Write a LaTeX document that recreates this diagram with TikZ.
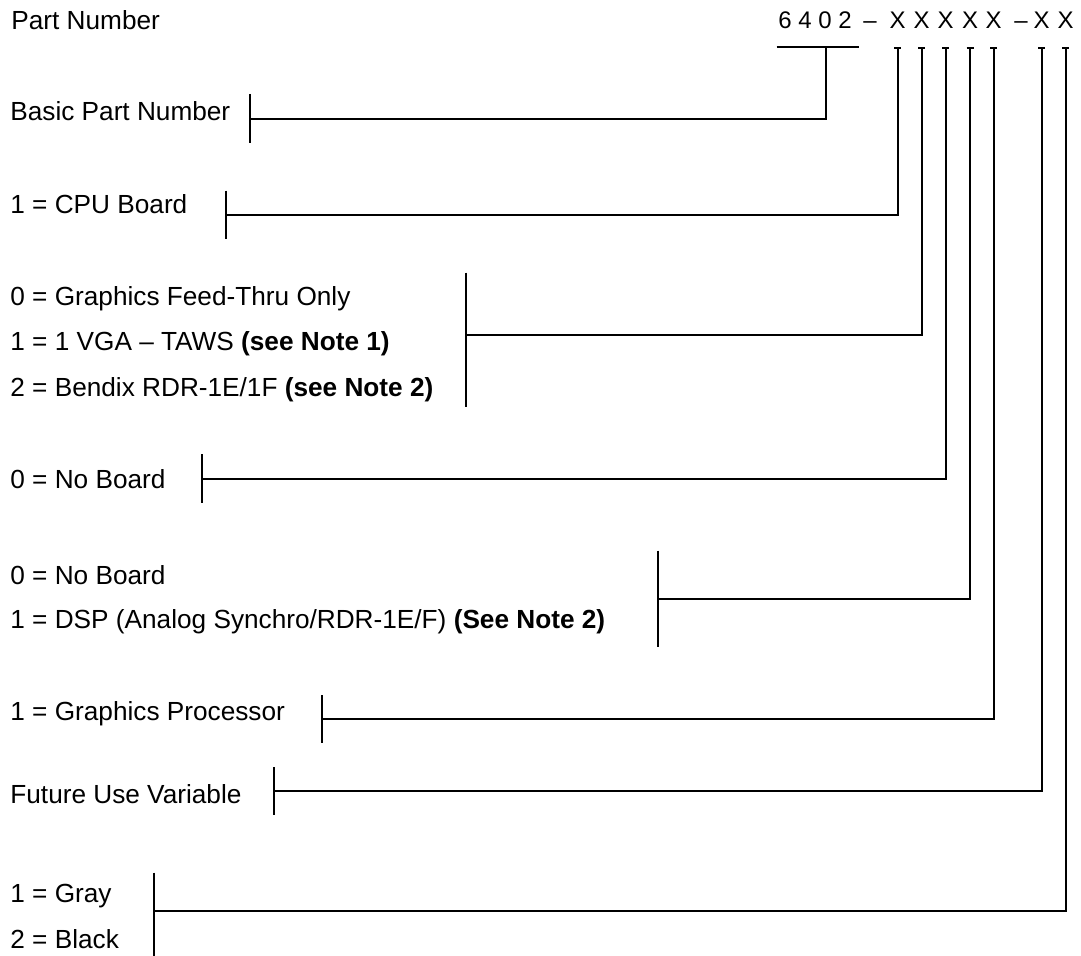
\documentclass[tikz,border=0pt]{standalone}
\usepackage{fontspec}
\setmainfont{Liberation Sans}
\usetikzlibrary{arrows.meta,calc}

\begin{document}
\begin{tikzpicture}[
  x=0.5pt, y=-0.5pt,
  entry/.style={anchor=base west, inner sep=0pt, font=\fontsize{13.1}{15}\selectfont},
  digit/.style={anchor=base, inner sep=0pt, font=\fontsize{12}{14}\selectfont},
  brk/.style={line width=1pt},
  lead/.style={line width=1pt, {Bar[width=3.5pt]}-}
]
  \useasboundingbox (0,0) rectangle (1081,956);
  % labels on the left
  \node[entry] (pn) at (11,29.3) {Part Number};
  \node[entry] (basic) at (10,121) {Basic Part Number};
  \node[entry] (cpu) at (10,213.3) {1 = CPU Board};
  \node[entry] (gfx0) at (10,306) {0 = Graphics Feed-Thru Only};
  \node[entry] (gfx1) at (10,351) {1 = 1 VGA -- TAWS \textbf{(see Note 1)}};
  \node[entry] (gfx2) at (10,396.7) {2 = Bendix RDR-1E/1F \textbf{(see Note 2)}};
  \node[entry] (nob) at (10,488.3) {0 = No Board};
  \node[entry] (dsp0) at (10,584) {0 = No Board};
  \node[entry] (dsp1) at (10,628) {1 = DSP (Analog Synchro/RDR-1E/F) \textbf{(See Note 2)}};
  \node[entry] (gp) at (10,720) {1 = Graphics Processor};
  \node[entry] (fut) at (10,803.3) {Future Use Variable};
  \node[entry] (gray) at (10,902.7) {1 = Gray};
  \node[entry] (black) at (10,948) {2 = Black};
  % part number code
  \node[digit, anchor=base west] (bpn) at (778,28.3) {6 4 0 2};
  \node[digit] (d1) at (870,28.3) {--};
  \node[digit] (d2) at (1021,28.3) {--};
  \foreach \i/\x in {1/897.7,2/921.7,3/945.7,4/970,5/993.7,6/1041.7,7/1065.7}
    \node[digit] (x\i) at (\x,28.3) {X};
  \coordinate (top) at (0,46.7);
  % basic part number bracket
  \coordinate (ul) at (826,46.7);
  \coordinate (kb) at (250,119.3);
  \draw[brk] (776.7,46.7) -- (859.3,46.7);
  \draw[brk] (250,94) -- (250,142.7);
  \draw[brk] (ul) |- (kb);
  % one lead per X
  \foreach \i/\kx/\ky/\ka/\kb in {1/226/215/190.7/239.3, 2/466/335/272.7/406.7,
      3/202/479.3/454.3/502.7, 4/657.7/599/550.7/647.3, 5/321.7/719.3/695/742.7,
      6/274/791/767/815, 7/154/910.7/872.7/956} {
    \coordinate (k\i) at (\kx,\ky);
    \draw[brk] (\kx,\ka) -- (\kx,\kb);
    \draw[lead] (x\i |- top) |- (k\i);
  }
\end{tikzpicture}
\end{document}
